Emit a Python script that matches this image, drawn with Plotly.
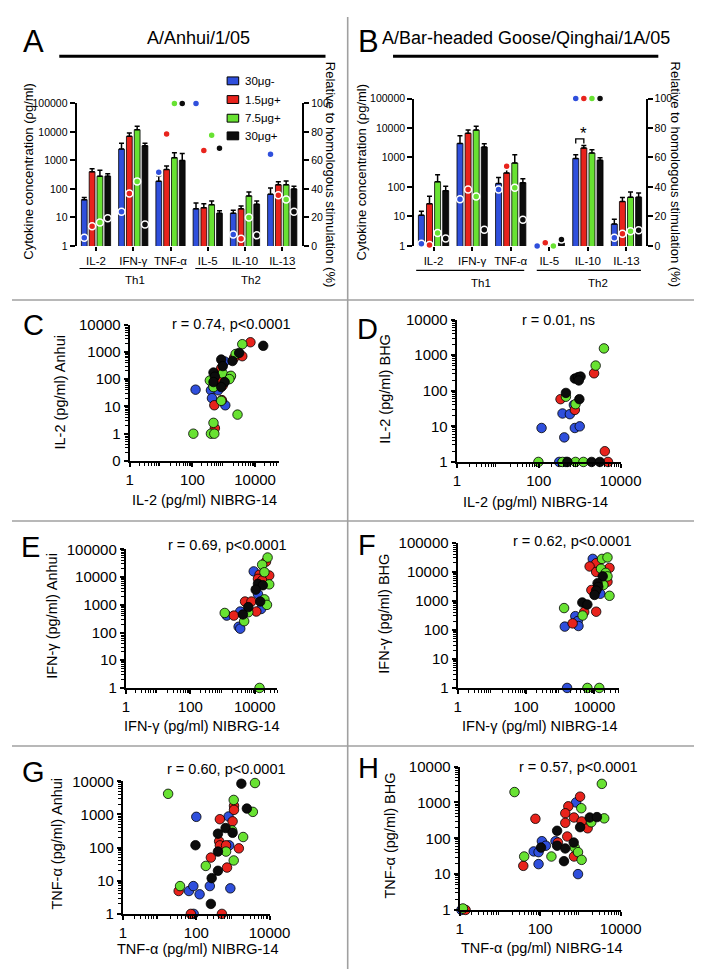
import math
import plotly.graph_objects as go

W, H = 707, 969
FONT = "Liberation Sans, Arial, Helvetica, sans-serif"

series_names = ["30μg-", "1.5μg+", "7.5μg+", "30μg+"]
series_colors = ["#2f4fdc", "#e8231c", "#68e232", "#0c0c0c"]
cytokines = ["IL-2", "IFN-γ", "TNF-α", "IL-5", "IL-10", "IL-13"]

# ---------------- Panel A (A/Anhui/1/05): mean pg/ml, upper error limit, % relative
a_blue_mean = [42, 2500, 185, 20, 14, 65]
a_red_mean = [400, 7000, 480, 22, 20, 140]
a_green_mean = [280, 12000, 1250, 28, 57, 140]
a_black_mean = [280, 3300, 1000, 14, 29, 100]
a_blue_top = [50, 4000, 290, 32, 18, 108]
a_red_top = [510, 9200, 640, 30, 25, 180]
a_green_top = [450, 16000, 1850, 38, 78, 190]
a_black_top = [340, 4000, 1750, 17, 38, 125]
a_blue_pct = [5.7, 24, 51.7, 100, 8, 64.4]
a_red_pct = [13.8, 36.8, 78.6, 67, 5, 35.6]
a_green_pct = [16.5, 45.3, 100, 77.7, 20, 32.6]
a_black_pct = [19.5, 15, 100, 68.5, 7.4, 24]

# ---------------- Panel B (A/Bar-headed Goose/Qinghai/1A/05)
b_blue_mean = [11, 3000, 130, 1, 920, 5.5]
b_red_mean = [27, 6600, 300, 1, 2100, 32]
b_green_mean = [150, 8500, 650, 1, 1420, 45]
b_black_mean = [75, 2250, 140, 1.25, 810, 45]
b_blue_top = [15, 5500, 210, 1, 1250, 8]
b_red_top = [48, 8500, 420, 1, 2550, 44]
b_green_top = [260, 11500, 1250, 1, 1830, 68]
b_black_top = [105, 2900, 190, 1.45, 980, 62]
b_blue_pct = [1.5, 31.6, 38.3, 0, 100, 5.5]
b_red_pct = [0.7, 38.3, 54, 2.2, 100, 8.2]
b_green_pct = [8.8, 33.6, 39.4, 0, 100, 10]
b_black_pct = [5, 11, 17.7, 4.4, 100, 10.6]
b_sig_bracket_y = [3000, 4250, 4250, 3000]
b_sig_star_y = 6600

# ---------------- Panel C: IL-2 NIBRG-14 vs Anhui
c_blue_x = [1070, 470, 390, 126, 420, 660, 1120]
c_blue_y = [440, 59, 39, 41, 20, 39, 11]
c_red_x = [7100, 3900, 2140, 830, 660, 930, 1620, 500, 870, 520]
c_red_y = [2240, 690, 600, 250, 100, 59, 123, 11, 17, 1.6]
c_green_x = [3900, 2400, 930, 360, 470, 1700, 1510, 830, 2750, 470, 107, 390, 500]
c_green_y = [1900, 830, 160, 89, 51, 132, 100, 16, 5, 2.5, 1, 1, 1]
c_black_x = [18200, 3100, 1900, 830, 930, 470, 520, 470, 1070, 830]
c_black_y = [1660, 910, 460, 520, 300, 174, 123, 78, 78, 51]

# ---------------- Panel D: IL-2 NIBRG-14 vs BHG
d_blue_x = [720, 380, 575, 760, 1000, 117, 420, 316, 460]
d_blue_y = [40, 23, 22, 9, 10, 9, 4.9, 1, 1]
d_red_x = [2240, 340, 760, 4100, 4900]
d_red_y = [310, 58, 29, 2, 1]
d_green_x = [3900, 2450, 460, 790, 98, 380, 790, 1230]
d_green_y = [1550, 510, 68, 42, 1, 1, 1, 1]
d_black_x = [760, 910, 1050, 950, 460, 980, 500, 1950, 3100]
d_black_y = [220, 240, 250, 195, 87, 58, 1, 1, 1]

# ---------------- Panel E: IFN-γ NIBRG-14 vs Anhui
e_blue_x = [9300, 12600, 15800, 3550, 1350, 3160, 3550]
e_blue_y = [16200, 2450, 710, 575, 410, 162, 138]
e_red_x = [22400, 14100, 28200, 12600, 17000, 5000, 7900, 11200, 2240]
e_red_y = [36300, 12300, 11500, 8700, 7600, 1320, 1320, 575, 410]
e_green_x = [25100, 17000, 20000, 28200, 20000, 24000, 6300, 1170, 4700, 14100]
e_green_y = [51300, 28200, 15100, 5500, 1580, 1000, 540, 510, 257, 1]
e_black_x = [12600, 17800, 10700, 14800, 6300, 4300]
e_black_y = [5750, 5100, 3550, 1320, 830, 450]

# ---------------- Panel F: IFN-γ NIBRG-14 vs BHG
f_blue_x = [8900, 14800, 2750, 3240, 3400, 1350, 1580]
f_blue_y = [27500, 1740, 295, 200, 135, 129, 1]
f_red_x = [11200, 7200, 27500, 11200, 24000, 8100, 11200, 5000, 2290]
f_red_y = [19500, 15100, 13500, 9800, 4500, 2340, 420, 410, 166]
f_green_x = [16600, 24000, 15500, 21400, 24000, 18200, 27500, 1290, 4500, 6200, 13800]
f_green_y = [27500, 30900, 12600, 9100, 6900, 3470, 1480, 560, 310, 1, 1]
f_black_x = [17400, 12300, 12900, 11200, 10000, 4400, 6200]
f_black_y = [6900, 4000, 3000, 2240, 1580, 870, 740]

# ---------------- Panel G: TNF-α NIBRG-14 vs Anhui
g_blue_x = [100, 760, 790, 63, 83, 123, 234, 850, 85]
g_blue_y = [850, 870, 117, 4.9, 6.9, 3.9, 6.9, 5.9, 1]
g_red_x = [1070, 1070, 440, 980, 420, 440, 650, 1450, 250, 690, 33, 71, 500]
g_red_y = [1820, 1380, 720, 620, 155, 117, 117, 95, 50, 25, 4.9, 1, 1]
g_green_x = [17, 4000, 1050, 3500, 1900, 650, 1050, 182, 36, 950]
g_green_y = [4200, 8900, 2750, 1200, 209, 76, 41, 28, 6.9, 330]
g_black_x = [1700, 2400, 630, 980, 390, 95, 390, 390, 263, 250]
g_black_y = [8500, 1510, 390, 280, 263, 118, 76, 20, 12, 2]

# ---------------- Panel H: TNF-α NIBRG-14 vs BHG
h_blue_x = [780, 110, 138, 240, 69, 91, 91, 870, 1.1]
h_blue_y = [1000, 83, 62, 83, 43, 41, 19, 10, 1]
h_red_x = [980, 500, 420, 690, 76, 420, 1070, 1510, 470, 275, 38, 690, 1.4]
h_red_y = [1450, 780, 500, 380, 350, 270, 295, 190, 112, 76, 17, 31, 1]
h_green_x = [23, 3400, 1050, 1860, 3900, 720, 870, 190, 40, 1070, 1.2]
h_green_y = [1950, 3300, 690, 280, 360, 55, 41, 31, 31, 25, 1.1]
h_black_x = [1700, 2570, 980, 263, 105, 263, 420, 680, 390]
h_black_y = [380, 390, 204, 162, 55, 62, 52, 76, 23]

# ======================================================================
def dx(p):
    return p / W


def dy(p):
    return 1 - p / H


fig = go.Figure()

bar_step = 0.21
bar_width = 0.155
group_pos = list(range(len(cytokines)))


def bar_x(j):
    return [g + (j - 1.5) * bar_step for g in group_pos]


def add_bar_panel(means, tops, pcts, xa, ya, ya2):
    for j, (m, t) in enumerate(zip(means, tops)):
        err = [tt - mm for tt, mm in zip(t, m)]
        fig.add_trace(go.Bar(
            x=bar_x(j), y=m, width=bar_width, name=series_names[j],
            marker=dict(color=series_colors[j], line=dict(color="black", width=0.8)),
            error_y=dict(type="data", symmetric=False, array=err,
                         arrayminus=[0] * len(err), color="black",
                         thickness=1.5, width=2.5),
            xaxis=xa, yaxis=ya, showlegend=False))
    for j, p in enumerate(pcts):
        fig.add_trace(go.Scatter(
            x=bar_x(j), y=p, mode="markers", cliponaxis=False,
            marker=dict(size=7, color=series_colors[j], line=dict(color="white", width=1.5)),
            xaxis=xa, yaxis=ya2, showlegend=False, hoverinfo="skip"))


add_bar_panel([a_blue_mean, a_red_mean, a_green_mean, a_black_mean],
              [a_blue_top, a_red_top, a_green_top, a_black_top],
              [a_blue_pct, a_red_pct, a_green_pct, a_black_pct], "x", "y", "y2")
add_bar_panel([b_blue_mean, b_red_mean, b_green_mean, b_black_mean],
              [b_blue_top, b_red_top, b_green_top, b_black_top],
              [b_blue_pct, b_red_pct, b_green_pct, b_black_pct], "x2", "y3", "y4")

# significance bracket (IL-10, 30μg- vs 1.5μg+) in panel B
bx0 = bar_x(0)[4]
bx1 = bar_x(1)[4]
fig.add_trace(go.Scatter(x=[bx0, bx0, bx1, bx1], y=b_sig_bracket_y, mode="lines",
                         line=dict(color="black", width=1.3), xaxis="x2", yaxis="y3",
                         showlegend=False, hoverinfo="skip"))


def add_scatter_panel(xs, ys, xa, ya):
    for j in range(4):
        fig.add_trace(go.Scatter(
            x=xs[j], y=ys[j], mode="markers", cliponaxis=False,
            marker=dict(size=9.5, color=series_colors[j], line=dict(color="black", width=0.8)),
            xaxis=xa, yaxis=ya, showlegend=False, hoverinfo="skip"))


add_scatter_panel([c_blue_x, c_red_x, c_green_x, c_black_x],
                  [c_blue_y, c_red_y, c_green_y, c_black_y], "x3", "y5")
add_scatter_panel([d_blue_x, d_red_x, d_green_x, d_black_x],
                  [d_blue_y, d_red_y, d_green_y, d_black_y], "x4", "y6")
add_scatter_panel([e_blue_x, e_red_x, e_green_x, e_black_x],
                  [e_blue_y, e_red_y, e_green_y, e_black_y], "x5", "y7")
add_scatter_panel([f_blue_x, f_red_x, f_green_x, f_black_x],
                  [f_blue_y, f_red_y, f_green_y, f_black_y], "x6", "y8")
add_scatter_panel([g_blue_x, g_red_x, g_green_x, g_black_x],
                  [g_blue_y, g_red_y, g_green_y, g_black_y], "x7", "y9")
add_scatter_panel([h_blue_x, h_red_x, h_green_x, h_black_x],
                  [h_blue_y, h_red_y, h_green_y, h_black_y], "x8", "y10")

# ---------------- axes
BK = "black"
EPS = 0.003


def bar_xaxis(x0, x1, rng, anchor):
    return dict(domain=[dx(x0), dx(x1)], range=rng, anchor=anchor,
                tickmode="array", tickvals=group_pos, ticktext=cytokines,
                showline=False, ticks="outside", ticklen=4, tickwidth=1.5, tickcolor=BK,
                tickfont=dict(size=11.5, color=BK, family=FONT),
                showgrid=False, zeroline=False, fixedrange=True)


dec5 = [1, 10, 100, 1000, 10000, 100000]


def bar_yaxis(y0, y1, anchor):
    return dict(domain=[dy(y1), dy(y0)], type="log", range=[0, 5], anchor=anchor,
                tickmode="array", tickvals=dec5, ticktext=[str(v) for v in dec5],
                showline=True, linewidth=2, linecolor=BK,
                ticks="outside", ticklen=5, tickwidth=1.5, tickcolor=BK,
                tickfont=dict(size=10.5, color=BK, family=FONT),
                showgrid=False, zeroline=False, fixedrange=True)


def pct_axis(over, anchor):
    return dict(overlaying=over, side="right", anchor=anchor, range=[0, 100],
                tickmode="array", tickvals=[0, 20, 40, 60, 80, 100],
                showline=True, linewidth=1.5, linecolor=BK,
                ticks="outside", ticklen=5, tickwidth=1.5, tickcolor=BK,
                tickfont=dict(size=10.5, color=BK, family=FONT),
                showgrid=False, zeroline=False, fixedrange=True)


def minor_vals(lo, hi):
    vals = []
    for e in range(lo, hi):
        for d in range(2, 10):
            vals.append(d * 10.0 ** e)
    return vals


def minor_cfg(lo, hi):
    return dict(tickmode="array", tickvals=minor_vals(lo, hi), ticks="outside",
                ticklen=3, tickwidth=1, tickcolor=BK)


sc_x_ticks = [1, 100, 10000]


def sc_xaxis(x0, x1, xmax, anchor):
    return dict(domain=[dx(x0), dx(x1)], type="log", range=[-EPS, xmax], anchor=anchor,
                tickmode="array", tickvals=sc_x_ticks, ticktext=[str(v) for v in sc_x_ticks],
                showline=True, linewidth=2, linecolor=BK,
                ticks="outside", ticklen=4, tickwidth=1.5, tickcolor=BK,
                minor=minor_cfg(0, int(math.ceil(xmax))),
                tickfont=dict(size=15, color=BK, family=FONT),
                showgrid=False, zeroline=False, fixedrange=True)


def sc_yaxis(y0, y1, yr, tv, tt, anchor):
    return dict(domain=[dy(y1), dy(y0)], type="log", range=[yr[0] - EPS, yr[1]], anchor=anchor,
                tickmode="array", tickvals=tv, ticktext=tt,
                showline=True, linewidth=2, linecolor=BK,
                ticks="outside", ticklen=4, tickwidth=1.5, tickcolor=BK,
                minor=minor_cfg(yr[0], yr[1]),
                tickfont=dict(size=15, color=BK, family=FONT),
                showgrid=False, zeroline=False, fixedrange=True)


dec4 = [1, 10, 100, 1000, 10000]
c_ticks = [0.1] + dec4
c_ticktext = ["0"] + [str(v) for v in dec4]

layout_axes = dict(
    xaxis=bar_xaxis(67, 301, [-0.52, 5.54], "y"),
    yaxis=bar_yaxis(88, 233, "x"),
    yaxis2=pct_axis("y", "x"),
    xaxis2=bar_xaxis(417, 657, [-0.5, 5.5], "y3"),
    yaxis3=bar_yaxis(83, 233, "x2"),
    yaxis4=pct_axis("y3", "x2"),
    xaxis3=sc_xaxis(122, 277, 4.77, "y5"),
    yaxis5=sc_yaxis(313, 452, [-1, 4], c_ticks, c_ticktext, "x3"),
    xaxis4=sc_xaxis(461, 631, 4.0, "y6"),
    yaxis6=sc_yaxis(308, 453, [0, 4], dec4, [str(v) for v in dec4], "x4"),
    xaxis5=sc_xaxis(118, 275, 4.7, "y7"),
    yaxis7=sc_yaxis(542, 683, [0, 5], dec5, [str(v) for v in dec5], "x5"),
    xaxis6=sc_xaxis(462, 629, 4.71, "y8"),
    yaxis8=sc_yaxis(535, 683, [0, 5], dec5, [str(v) for v in dec5], "x6"),
    xaxis7=sc_xaxis(115, 267, 4.0, "y9"),
    yaxis9=sc_yaxis(778, 913, [0, 4], dec4, [str(v) for v in dec4], "x7"),
    xaxis8=sc_xaxis(464, 631, 4.0, "y10"),
    yaxis10=sc_yaxis(763, 909, [0, 4], dec4, [str(v) for v in dec4], "x8"),
)

# ---------------- annotations
anns = []


def txt(t, x, y, size, angle=0, xanchor="center"):
    anns.append(dict(text=t, x=dx(x), y=dy(y), xref="paper", yref="paper",
                     showarrow=False, textangle=angle, xanchor=xanchor, yanchor="middle",
                     font=dict(size=size, color=BK, family=FONT)))


# panel letters
txt("A", 22, 25, 31)
txt("B", 370, 25, 31)
txt("C", 22, 314, 29)
txt("D", 369, 318, 29)
txt("E", 19, 539, 29)
txt("F", 368, 537, 29)
txt("G", 22, 768, 29)
txt("H", 370, 764, 29)

# titles
txt("A/Anhui/1/05", 193, 21, 18)
txt("A/Bar-headed Goose/Qinghai/1A/05", 533, 21, 18)

# bar panel axis titles
txt("Cytokine concentration (ρg/ml)", 17, 157, 13, -90)
txt("Relative to homologous stimulation (%)", 330, 160, 13, 90)
txt("Cytokine concentration (ρg/ml)", 362, 158, 13, -90)
txt("Relative to homologous stimulation (%)", 688, 160, 13, 90)
txt("Th1", 128, 268, 11.5)
txt("Th2", 248, 268, 11.5)
txt("Th1", 486, 271, 11.5)
txt("Th2", 607, 271, 11.5)

# legend for panel A (drawn as swatches + labels)
legend_rows_y = [65, 84, 103, 121]
shapes = []
for j, ly in enumerate(legend_rows_y):
    shapes.append(dict(type="rect", xref="paper", yref="paper",
                       x0=dx(223), x1=dx(235), y0=dy(ly + 4), y1=dy(ly - 4),
                       fillcolor=series_colors[j], line=dict(color="black", width=1)))
    txt(series_names[j], 239, ly, 11.5, xanchor="left")

# significance star
anns.append(dict(text="*", x=bx1, y=math.log10(b_sig_star_y), xref="x2", yref="y3",
                 showarrow=False, font=dict(size=17, color=BK, family=FONT)))

# scatter annotations
txt("r = 0.74, p<0.0001", 228, 312, 14.5)
txt("r = 0.01, ns", 567, 308, 14.5)
txt("r = 0.69, p<0.0001", 223, 537, 14.5)
txt("r = 0.62, p<0.0001", 581, 533, 14.5)
txt("r = 0.60, p<0.0001", 222, 765, 14.5)
txt("r = 0.57, p<0.0001", 587, 763, 14.5)

txt("IL-2 (pg/ml) NIBRG-14", 200, 492, 14.5)
txt("IL-2 (pg/ml) NIBRG-14", 543, 494, 14.5)
txt("IFN-γ (pg/ml) NIBRG-14", 197, 722, 14.5)
txt("IFN-γ (pg/ml) NIBRG-14", 547, 722, 14.5)
txt("TNF-α (pg/ml) NIBRG-14", 192, 949, 14.5)
txt("TNF-α (pg/ml) NIBRG-14", 549, 948, 14.5)

txt("IL-2 (pg/ml) Anhui", 50, 382, 14.5, -90)
txt("IL-2 (pg/ml) BHG", 387, 378, 14.5, -90)
txt("IFN-γ (pg/ml) Anhui", 42, 610, 14.5, -90)
txt("IFN-γ (pg/ml) BHG", 386, 607, 14.5, -90)
txt("TNF-α (pg/ml) Anhui", 47, 841, 14.5, -90)
txt("TNF-α (pg/ml) BHG", 392, 833, 14.5, -90)


# ---------------- shapes
def line(x0, y0, x1, y1, color, width):
    shapes.append(dict(type="line", xref="paper", yref="paper",
                       x0=dx(x0), y0=dy(y0), x1=dx(x1), y1=dy(y1),
                       line=dict(color=color, width=width)))


GR = "#a0a0a0"
line(0, 288, W, 288, GR, 1.6)
line(0, 513, W, 513, GR, 1.6)
line(0, 742, W, 742, GR, 1.6)
line(348, 0, 348, H, GR, 1.6)
line(49, 40, 325, 40, BK, 3)
line(395, 40, 670, 40, BK, 3)
line(70, 256, 177, 256, BK, 1.2)
line(190, 256, 294, 256, BK, 1.2)
line(419, 258, 531, 258, BK, 1.2)
line(544, 258, 652, 258, BK, 1.2)

fig.update_layout(
    width=W, height=H, autosize=False,
    margin=dict(l=0, r=0, t=0, b=0, pad=0),
    paper_bgcolor="white", plot_bgcolor="rgba(0,0,0,0)",
    font=dict(family=FONT, color=BK),
    barmode="overlay",
    showlegend=False,
    annotations=anns,
    shapes=shapes,
    **layout_axes,
)

fig.write_html("out.html")
